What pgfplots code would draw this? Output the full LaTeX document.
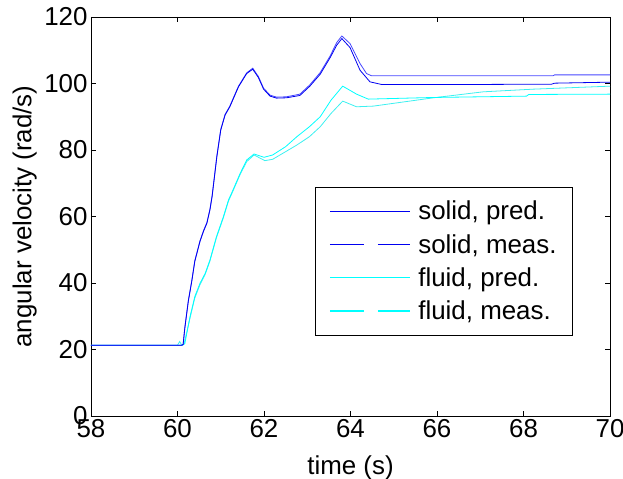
\documentclass[border=0pt]{standalone}
\usepackage{fontspec}
\setmainfont{Liberation Sans}
\usepackage{pgfplots}
\pgfplotsset{compat=1.18}
\definecolor{solidp}{RGB}{0,0,240}
\definecolor{solidm}{RGB}{70,70,255}
\definecolor{fluidp}{RGB}{0,255,255}
\definecolor{fluidm}{RGB}{60,240,240}
\begin{document}
\begin{tikzpicture}
\begin{axis}[name=ax,
  scale only axis, width=519bp, height=399bp,
  xmin=58, xmax=70, ymin=0, ymax=120,
  xtick={58,60,...,70}, ytick={0,20,...,120},
  tick align=inside, major tick length=5bp,
  tick style={black, line width=0.5pt},
  axis line style={black, line width=0.9pt},
  /pgf/number format/assume math mode=true,
  ticklabel style={font=\fontsize{26}{30}\selectfont},
  label style={font=\fontsize{26}{30}\selectfont},
  xlabel={time (s)}, ylabel={angular velocity (rad/s)},
  xlabel style={at={(axis description cs:0.5,-0.130)}, anchor=center},
  ylabel style={at={(axis description cs:-0.1277,0.5)}, anchor=center},
  legend cell align=left,
  legend style={at={(axis description cs:0.4316,0.574)}, anchor=north west,
    font=\fontsize{26}{30}\selectfont,
    inner xsep=14bp, inner ysep=12bp, row sep=9bp,
    /tikz/every odd column/.append style={column sep=6bp}},
  legend image code/.code={\draw[#1] (0bp,0bp) -- (80bp,0bp);},
  every axis plot/.append style={line width=0.8pt},
]
% fluid, meas.
\addplot[fluidm, forget plot] coordinates {
(58,21.3) (60.0,21.3) (60.05,22.4) (60.1,21.3) (60.15,21.6) (60.29,29.5)
(60.4,35.5) (60.52,39.5) (60.64,42.6) (60.75,46.6) (60.9,53.6) (61.06,59.6)
(61.18,64.7) (61.25,66.7) (61.45,72.7) (61.6,76.5) (61.77,78.5) (62.02,76.8)
(62.2,77.2) (62.5,79.5) (62.76,81.5) (63.05,84) (63.3,87) (63.55,91)
(63.82,94.7) (64.14,93.0) (64.53,93.2) (65.92,95.7) (67.07,97.5) (68.23,98.3) (70,99.2)};
% fluid, pred.
\addplot[fluidp, forget plot] coordinates {
(58,21.3) (60.12,21.3) (60.17,21.8) (60.29,29.9) (60.4,35.9) (60.52,39.9)
(60.64,42.9) (60.75,46.9) (60.9,53.9) (61.06,59.9) (61.18,65) (61.25,67)
(61.45,73) (61.6,77) (61.77,78.8) (62.0,77.8) (62.2,78.5) (62.5,81)
(62.76,84) (63.05,87) (63.3,90) (63.55,95) (63.82,99.2) (64.14,96.8)
(64.41,95.3) (65.92,95.8) (68.07,96.2) (68.12,96.7) (70,96.8)};
% solid, meas.
\addplot[solidm, forget plot] coordinates {
(58,21.3) (60.1,21.3) (60.13,21.6) (60.17,26.7) (60.25,34.7) (60.33,40.7)
(60.4,46.7) (60.52,52.7) (60.6,55.7) (60.68,58.2) (60.75,62.2) (60.8,66.2)
(60.91,78.2) (61.0,86.2) (61.1,90.7) (61.21,93.2) (61.41,99.2) (61.6,103.2)
(61.74,104.6) (61.87,102.1) (61.99,98.6) (62.14,96.5) (62.29,95.9) (62.52,96.0)
(62.83,96.8) (63.06,99.6) (63.3,103.3) (63.53,108.3) (63.68,112.3) (63.8,114.3)
(63.99,112) (64.22,106) (64.37,103) (64.49,102.3) (68.68,102.3) (68.72,102.6) (70,102.6)};
% solid, pred.
\addplot[solidp, forget plot] coordinates {
(58,21.3) (60.1,21.3) (60.13,21.5) (60.17,26.5) (60.25,34.5) (60.33,40.5)
(60.4,46.5) (60.52,52.5) (60.6,55.5) (60.68,58) (60.75,62) (60.8,66)
(60.91,78) (61.0,86) (61.1,90.5) (61.21,93) (61.41,99) (61.6,103)
(61.74,104.3) (61.87,101.8) (61.99,98.3) (62.14,96.2) (62.29,95.6) (62.52,95.7)
(62.83,96.4) (63.06,99.2) (63.3,102.8) (63.53,107.8) (63.68,111.5) (63.8,113.5)
(63.99,110.8) (64.22,104) (64.45,100.5) (64.72,99.7) (66.7,99.7) (68.65,99.8)
(68.72,100.1) (70,100.4)};
\addlegendimage{draw=solidp, line width=1.2pt}
\addlegendentry{solid, pred.}
\addlegendimage{draw=solidp, line width=1.2pt, dash pattern=on 34bp off 14bp}
\addlegendentry{solid, meas.}
\addlegendimage{draw=fluidp, line width=1.2pt}
\addlegendentry{fluid, pred.}
\addlegendimage{draw=fluidp, line width=1.2pt, dash pattern=on 34bp off 14bp}
\addlegendentry{fluid, meas.}
\end{axis}
\pgfresetboundingbox
\path (ax.south west) ++(-91bp,-63bp) rectangle ([xshift=532bp,yshift=416bp]ax.south west);
\end{tikzpicture}
\end{document}
